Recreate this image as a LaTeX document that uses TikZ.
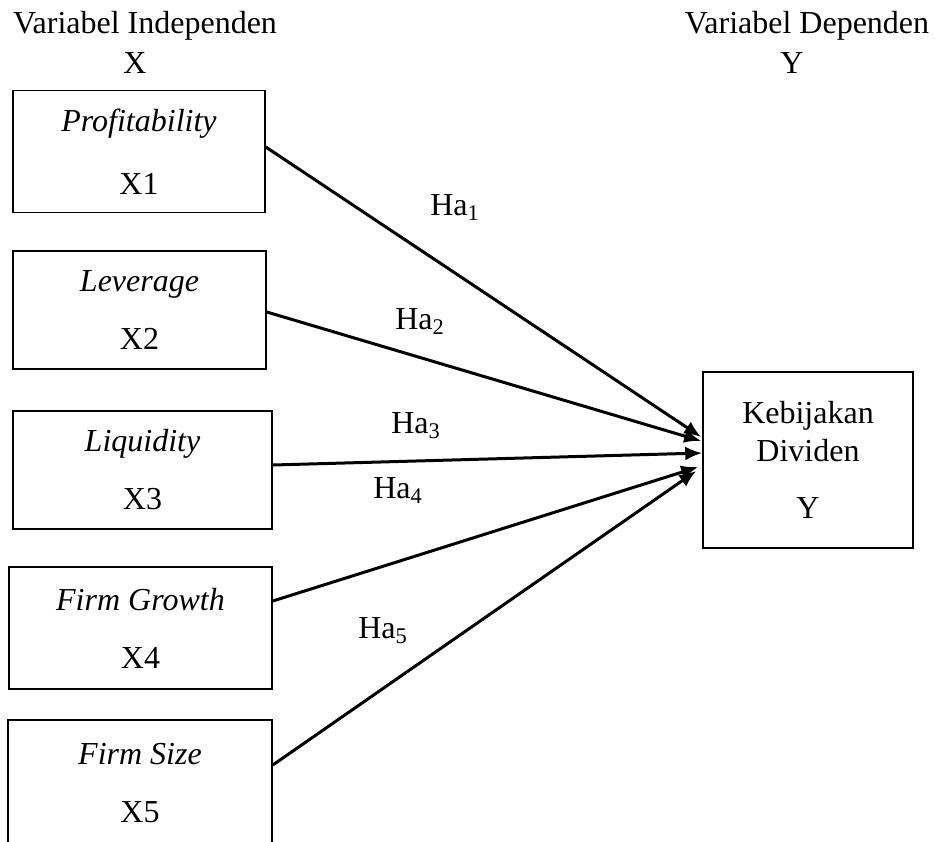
\documentclass[tikz,border=0pt]{standalone}
\usepackage{fontspec}
\setmainfont{Liberation Serif}
\usetikzlibrary{arrows.meta}

\tikzset{
  varbox/.style={draw, line width=0.8pt, align=center, inner sep=0pt},
  hyp/.style={-{Latex[length=8.5pt,width=7pt]}, line width=1.5pt},
}

\begin{document}
\begin{tikzpicture}[x=0.5pt,y=-0.5pt,font=\fontsize{16}{19.2}\selectfont]
  \useasboundingbox (0,0) rectangle (935,841);
  \clip (0,0) rectangle (935,841);

  \node[anchor=base] (indep) at (145,33) {Variabel Independen};
  \node[anchor=base] (hx) at (135,73) {X};
  \node[anchor=base] (dep) at (807,33) {Variabel Dependen};
  \node[anchor=base] (hy) at (792,73) {Y};

  \node[varbox, minimum width=126pt, minimum height=61pt] (x1) at (139,151.5) {\textit{Profitability}\\[12.3pt]X1};
  \node[varbox, minimum width=126.5pt, minimum height=59pt] (x2) at (139.5,310) {\textit{Leverage}\\[9.8pt]X2};
  \node[varbox, minimum width=129.5pt, minimum height=59pt] (x3) at (142.5,470) {\textit{Liquidity}\\[9.8pt]X3};
  \node[varbox, minimum width=131.5pt, minimum height=61pt] (x4) at (140.5,628) {\textit{Firm Growth}\\[9.8pt]X4};
  \node[varbox, minimum width=132pt, minimum height=63pt] (x5) at (140,783) {\textit{Firm Size}\\[9.8pt]X5};

  \node[varbox, minimum width=105pt, minimum height=88pt] (dv) at (808,460) {Kebijakan\\Dividen\\[9.3pt]Y};

  \draw[hyp] ([yshift=2.25pt]x1.east) -- ([xshift=-0.5pt,yshift=11.5pt]dv.west);
  \draw[hyp] ([yshift=-1pt]x2.east) -- ([xshift=-0.5pt,yshift=9.5pt]dv.west);
  \draw[hyp] ([yshift=2.5pt]x3.east) -- ([yshift=3.5pt]dv.west);
  \draw[hyp] ([yshift=13.5pt]x4.east) -- ([xshift=-2pt,yshift=-3.5pt]dv.west);
  \draw[hyp] ([yshift=9pt]x5.east) -- ([xshift=-3pt,yshift=-5.5pt]dv.west);

  \node[anchor=base] (h1) at (455,215) {Ha\textsubscript{1}};
  \node[anchor=base] (h2) at (420,329) {Ha\textsubscript{2}};
  \node[anchor=base] (h3) at (416,433) {Ha\textsubscript{3}};
  \node[anchor=base] (h4) at (398,498) {Ha\textsubscript{4}};
  \node[anchor=base] (h5) at (383,638) {Ha\textsubscript{5}};
\end{tikzpicture}
\end{document}
